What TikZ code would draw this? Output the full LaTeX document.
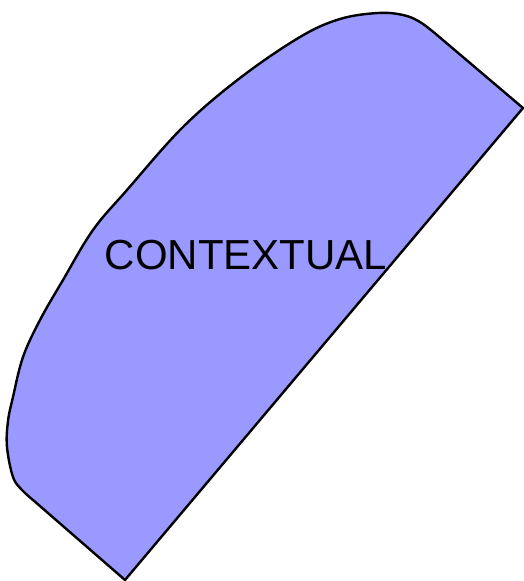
\documentclass[tikz,border=0pt]{standalone}
\usepackage{fontspec}
\setmainfont{Liberation Sans}
\definecolor{blobfill}{RGB}{153,153,255}
\begin{document}
\begin{tikzpicture}[x=1pt,y=1pt,
  blob/.style={draw=black,line width=2.4pt,fill=blobfill,line join=round},
  lbl/.style={font=\fontsize{42}{42}\selectfont,inner sep=0pt,anchor=base}]
\useasboundingbox (0,0) rectangle (524,581);
\draw[blob] (125,1) -- (523,473) -- plot[smooth,tension=0.6] coordinates {
 (437,546) (420,559) (403,566) (378,568) (340,562) (300,544) (240,503)
 (183,454) (127,391) (93,351) (63,301) (40,261) (23,224) (13,184) (8,160) (7,134) (13,104)
 (22,91) (33,81)} -- cycle;
\node[lbl] (t) at (246,311) {CONTEXTUAL};
\end{tikzpicture}
\end{document}
